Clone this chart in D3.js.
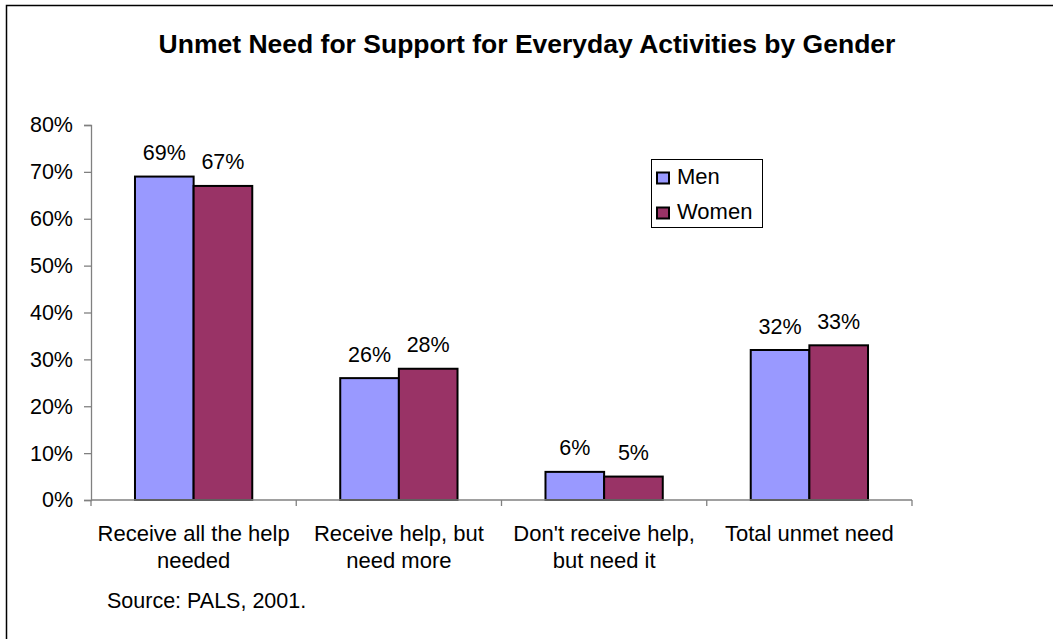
<!DOCTYPE html>
<html>
<head>
<meta charset="utf-8">
<script src="https://cdn.jsdelivr.net/npm/d3@7"></script>
<style>
  html, body { margin: 0; padding: 0; background: #fff; }
  svg { display: block; }
  text { font-family: "Liberation Sans", Arial, sans-serif; fill: #000; }
</style>
</head>
<body>
<svg id="chart" width="1053" height="639"></svg>
<script>
const categories = [
  ["Receive all the help", "needed"],
  ["Receive help, but", "need more"],
  ["Don't receive help,", "but need it"],
  ["Total unmet need"]
];
const seriesNames = ["Men", "Women"];
const men = [69, 26, 6, 32];
const women = [67, 28, 5, 33];
const seriesColors = ["#9999FF", "#993366"];
const yTicks = [0, 10, 20, 30, 40, 50, 60, 70, 80];
const title = "Unmet Need for Support for Everyday Activities by Gender";
const source = "Source: PALS, 2001.";

const svg = d3.select("#chart");
const plot = { left: 91, right: 912, top: 125, bottom: 500 };

// outer frame (runs off the right and bottom edges)
svg.append("rect")
  .attr("x", 6.5).attr("y", 5.5)
  .attr("width", 1200).attr("height", 800)
  .attr("fill", "none").attr("stroke", "#000").attr("stroke-width", 1.5);

svg.append("text")
  .attr("x", 527).attr("y", 53)
  .attr("text-anchor", "middle")
  .style("font-size", "26.5px").style("font-weight", "bold")
  .text(title);

const x0 = d3.scaleBand().domain(d3.range(categories.length))
  .range([plot.left, plot.right]).paddingInner(0.4286).paddingOuter(0.2143);
const x1 = d3.scaleBand().domain(seriesNames).range([0, x0.bandwidth()]);
const y = d3.scaleLinear().domain([0, 80]).range([plot.bottom, plot.top]);

// y axis
const yAxis = svg.append("g").attr("transform", `translate(${plot.left},0)`)
  .call(d3.axisLeft(y).tickValues(yTicks).tickFormat(d => d + "%").tickSize(7).tickPadding(11));
yAxis.select(".domain").attr("stroke", "#808080").attr("stroke-width", 1.3);
yAxis.selectAll(".tick line").attr("stroke", "#808080").attr("stroke-width", 1.3);
yAxis.selectAll(".tick text")
  .style("font-size", "21.5px")
  .style("font-family", "Liberation Sans, Arial, sans-serif")
  .attr("fill", "#000");

// bars
const data = categories.map((c, i) => ({ i, values: [men[i], women[i]] }));
const groups = svg.append("g").selectAll("g").data(data).join("g")
  .attr("transform", d => `translate(${x0(d.i)},0)`);
groups.selectAll("rect").data(d => d.values.map((v, k) => ({ k, v })))
  .join("rect")
  .attr("x", d => x1(seriesNames[d.k]))
  .attr("y", d => y(d.v))
  .attr("width", x1.bandwidth())
  .attr("height", d => y(0) - y(d.v))
  .attr("fill", d => seriesColors[d.k])
  .attr("stroke", "#000").attr("stroke-width", 2);
groups.selectAll("text.val").data(d => d.values.map((v, k) => ({ k, v })))
  .join("text").attr("class", "val")
  .attr("x", d => x1(seriesNames[d.k]) + x1.bandwidth() / 2)
  .attr("y", d => y(d.v) - 16.5)
  .attr("text-anchor", "middle")
  .style("font-size", "21.5px")
  .text(d => d.v + "%");

// x axis
const step = (plot.right - plot.left) / categories.length;
const xAxisG = svg.append("g");
xAxisG.append("line")
  .attr("x1", plot.left).attr("x2", plot.right)
  .attr("y1", plot.bottom).attr("y2", plot.bottom)
  .attr("stroke", "#808080").attr("stroke-width", 1.3);
xAxisG.selectAll("line.tick").data(d3.range(categories.length + 1)).join("line")
  .attr("class", "tick")
  .attr("x1", d => plot.left + d * step).attr("x2", d => plot.left + d * step)
  .attr("y1", plot.bottom).attr("y2", plot.bottom + 6)
  .attr("stroke", "#808080").attr("stroke-width", 1.3);
xAxisG.selectAll("text").data(data).join("text")
  .attr("x", d => x0(d.i) + x0.bandwidth() / 2)
  .attr("y", 541)
  .attr("text-anchor", "middle")
  .style("font-size", "22px")
  .each(function (d) {
    d3.select(this).selectAll("tspan").data(categories[d.i]).join("tspan")
      .attr("x", x0(d.i) + x0.bandwidth() / 2)
      .attr("dy", (t, j) => j === 0 ? 0 : 27)
      .text(t => t);
  });

// legend
const lg = svg.append("g");
lg.append("rect").attr("x", 651.5).attr("y", 159.5).attr("width", 111).attr("height", 68)
  .attr("fill", "#fff").attr("stroke", "#000").attr("stroke-width", 1);
seriesNames.forEach((name, k) => {
  const cy = 178 + k * 35;
  lg.append("rect").attr("x", 657).attr("y", cy - 5.5).attr("width", 12).attr("height", 11)
    .attr("fill", seriesColors[k]).attr("stroke", "#000").attr("stroke-width", 2);
  lg.append("text").attr("x", 677).attr("y", cy + 6)
    .style("font-size", "22px").text(name);
});

svg.append("text").attr("x", 107).attr("y", 608)
  .style("font-size", "21.5px").text(source);
</script>
</body>
</html>
